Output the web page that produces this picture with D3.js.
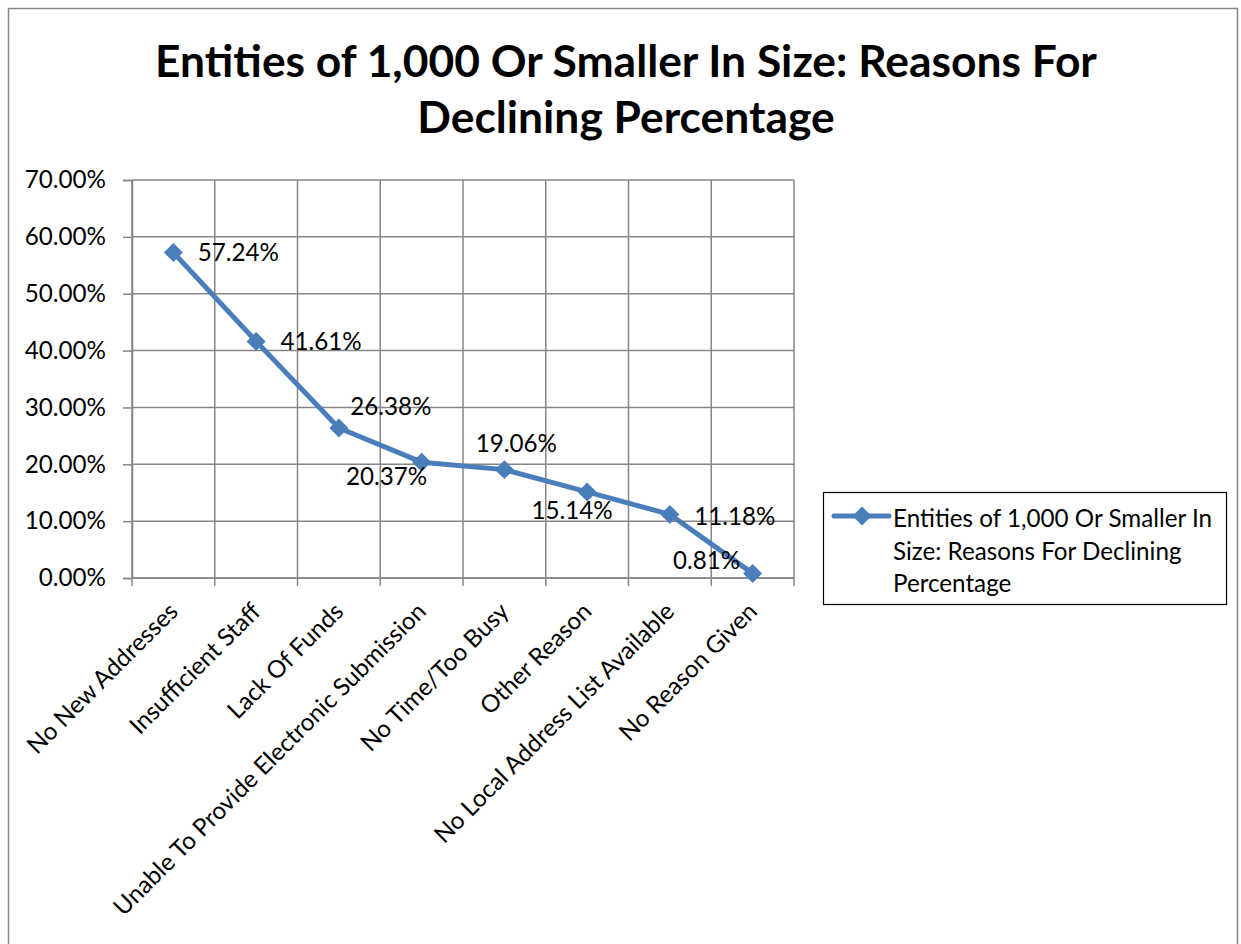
<!DOCTYPE html>
<html>
<head>
<meta charset="utf-8">
<script src="https://cdn.jsdelivr.net/npm/d3@7"></script>
<style>
  html, body { margin: 0; padding: 0; background: #ffffff; }
  svg { display: block; }
</style>
</head>
<body>
<svg id="chart" width="1241" height="944"></svg>
<script>
// ---------------- data ----------------
const categories = [
  "No New Addresses",
  "Insufficient Staff",
  "Lack Of Funds",
  "Unable To Provide Electronic Submission",
  "No Time/Too Busy",
  "Other Reason",
  "No Local Address List Available",
  "No Reason Given"
];
const values = [0.5724, 0.4161, 0.2638, 0.2037, 0.1906, 0.1514, 0.1118, 0.0081];
const yTicks = [0, 0.1, 0.2, 0.3, 0.4, 0.5, 0.6, 0.7];
const titleLines = ["Entities of 1,000 Or Smaller In Size: Reasons For", "Declining Percentage"];
const seriesName = "Entities of 1,000 Or Smaller In Size: Reasons For Declining Percentage";
const legendLines = ["Entities of 1,000 Or Smaller In", "Size: Reasons For Declining", "Percentage"];

// ---------------- layout / style ----------------
const FONT = "Lato, 'Open Sans', sans-serif";
const W = 1241, H = 944;
const plot = { left: 132, right: 794, top: 180, bottom: 578 };
const gridColor = "#868686";
const lineColor = "#4A7EBB";
// data-label placement offsets (label centre relative to point), Excel-like
const labelOffsets = [[65, 0], [65, 0], [52, -21], [-35, 14], [12, -26], [-15, 19], [65, 2], [-46, -13]];

const svg = d3.select("#chart");
svg.append("rect").attr("width", W).attr("height", H).attr("fill", "#fff");

function fit(text, weight, target) {
  const t = svg.append("text").attr("font-family", FONT).attr("font-weight", weight)
    .attr("font-size", 100).text(text);
  const w = t.node().getComputedTextLength();
  t.remove();
  return 100 * target / w;
}
const bodySize = (fit("70.00%", 400, 78) + fit(categories[3], 400, 445) + fit(legendLines[0], 400, 321)) / 3;
const titleSize = fit(titleLines[0], 700, 942);

// outer chart border
svg.append("rect").attr("x", 8.5).attr("y", 8.5).attr("width", 1229).attr("height", 1000)
  .attr("fill", "none").attr("stroke", gridColor).attr("stroke-width", 1.5);

// title
svg.append("g").selectAll("text").data(titleLines).join("text")
  .attr("x", 626).attr("y", (d, i) => 77 + i * 56)
  .attr("text-anchor", "middle")
  .attr("font-family", FONT).attr("font-weight", 700).attr("font-size", titleSize)
  .attr("fill", "#000").text(d => d);

// scales
const x = d3.scaleBand().domain(categories).range([plot.left, plot.right]);
const y = d3.scaleLinear().domain([0, 0.7]).range([plot.bottom, plot.top]);
const cx = d => x(d) + x.bandwidth() / 2;

// horizontal gridlines
svg.append("g").selectAll("line").data(yTicks).join("line")
  .attr("x1", plot.left).attr("x2", plot.right)
  .attr("y1", d => y(d)).attr("y2", d => y(d))
  .attr("stroke", gridColor).attr("stroke-width", 1.5);

// vertical gridlines at category boundaries (+ tick marks below axis)
const bounds = categories.map(c => x(c)).concat([plot.right]);
svg.append("g").selectAll("line").data(bounds).join("line")
  .attr("x1", d => d).attr("x2", d => d)
  .attr("y1", plot.top).attr("y2", plot.bottom + 8)
  .attr("stroke", gridColor).attr("stroke-width", 1.5);

// y axis
const yAxis = svg.append("g").attr("transform", `translate(${plot.left},0)`)
  .call(d3.axisLeft(y).tickValues(yTicks).tickFormat(d3.format(".2%")).tickSize(9).tickPadding(17));
yAxis.select(".domain").attr("stroke", gridColor).attr("stroke-width", 1.5);
yAxis.selectAll(".tick line").attr("stroke", gridColor).attr("stroke-width", 1.5);
yAxis.selectAll(".tick text").attr("font-family", FONT).attr("font-size", bodySize).attr("fill", "#000");

// x axis line
svg.append("line").attr("x1", plot.left).attr("x2", plot.right)
  .attr("y1", plot.bottom).attr("y2", plot.bottom)
  .attr("stroke", gridColor).attr("stroke-width", 1.5);

// category labels
svg.append("g").selectAll("text").data(categories).join("text")
  .attr("transform", d => `translate(${cx(d) + 6},${plot.bottom + 35}) rotate(-45)`)
  .attr("text-anchor", "end")
  .attr("font-family", FONT).attr("font-size", bodySize).attr("fill", "#000")
  .text(d => d);

// line
const pts = categories.map((c, i) => [cx(c), y(values[i])]);
svg.append("path").datum(pts)
  .attr("d", d3.line())
  .attr("fill", "none").attr("stroke", lineColor).attr("stroke-width", 5)
  .attr("stroke-linejoin", "round").attr("stroke-linecap", "round");

const diamond = d3.symbol().type(d3.symbolSquare).size(180);
svg.append("g").selectAll("path").data(pts).join("path")
  .attr("d", diamond)
  .attr("transform", d => `translate(${d[0]},${d[1]}) rotate(45)`)
  .attr("fill", lineColor);

// data labels
svg.append("g").selectAll("text").data(values).join("text")
  .attr("x", (d, i) => pts[i][0] + labelOffsets[i][0])
  .attr("y", (d, i) => pts[i][1] + labelOffsets[i][1])
  .attr("dy", "0.35em")
  .attr("text-anchor", "middle")
  .attr("font-family", FONT).attr("font-size", bodySize).attr("fill", "#000")
  .text(d => d3.format(".2%")(d));

// legend
const lg = svg.append("g").attr("class", "legend");
lg.append("rect").attr("x", 823.5).attr("y", 492.5).attr("width", 403).attr("height", 112)
  .attr("fill", "#fff").attr("stroke", "#000").attr("stroke-width", 1.2);
lg.append("line").attr("x1", 834).attr("x2", 889).attr("y1", 516).attr("y2", 516)
  .attr("stroke", lineColor).attr("stroke-width", 5).attr("stroke-linecap", "round");
lg.append("path").attr("d", diamond).attr("transform", "translate(862,516) rotate(45)").attr("fill", lineColor);
lg.append("title").text(seriesName);
lg.selectAll("text").data(legendLines).join("text")
  .attr("x", 893).attr("y", (d, i) => 527 + i * 32.5)
  .attr("font-family", FONT).attr("font-size", bodySize).attr("fill", "#000")
  .text(d => d);
</script>
</body>
</html>
